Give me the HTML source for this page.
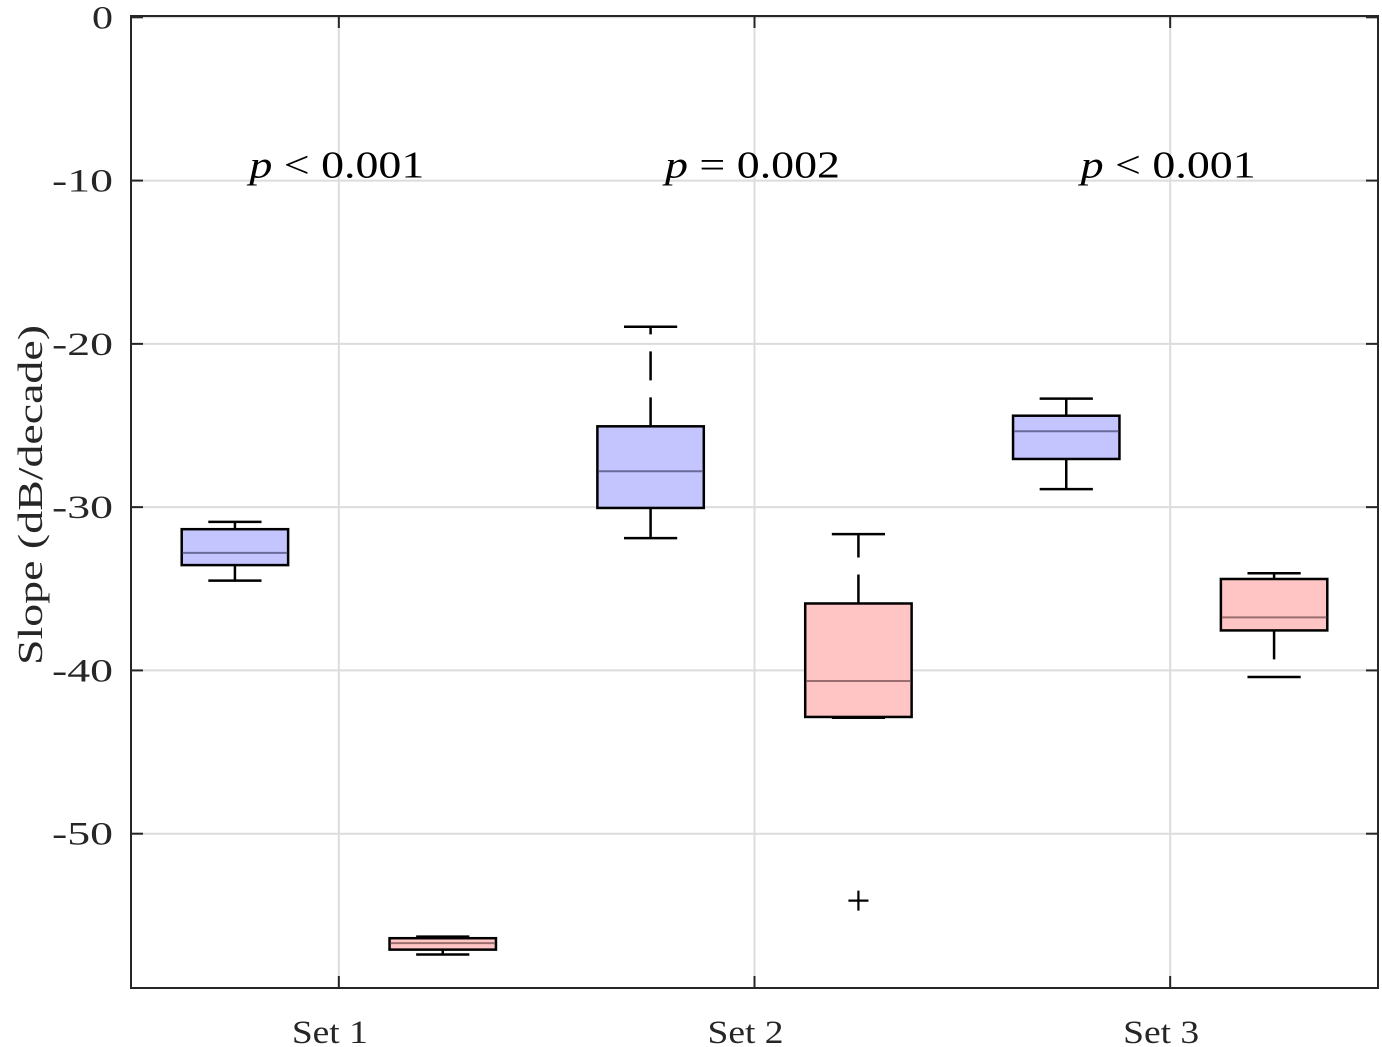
<!DOCTYPE html>
<html><head><meta charset="utf-8"><style>
html,body{margin:0;padding:0;background:#fff;}
svg{display:block;font-family:"Liberation Serif",serif;}
</style></head><body>
<svg id="chart" width="1382" height="1047" viewBox="0 0 1382 1047"></svg>
<script>
const categories = ["Set 1","Set 2","Set 3"];
// [whiskerLow, q1, median, q3, whiskerHigh]
const blueStats = [[-34.5,-33.55,-32.8,-31.35,-30.9],[-31.9,-30.05,-27.8,-25.05,-18.95],[-28.9,-27.05,-25.35,-24.4,-23.35]];
const redStats = [[-57.4,-57.1,-56.7,-56.4,-56.3],[-42.9,-42.85,-40.65,-35.9,-31.65],[-40.4,-37.55,-36.75,-34.4,-34.05]];
const redOutliers = [[],[-54.1],[]];
const pLabels = ["p < 0.001","p = 0.002","p < 0.001"];
const pLabelY = -9;
const yTicks = [0,-10,-20,-30,-40,-50];

const L=131,R=1378,T=16,B=988;
const xMin=0.5,xMax=3.5,yMin=-59.45,yMax=0.08;
const X=v=>L+(v-xMin)/(xMax-xMin)*(R-L);
const Y=v=>T+(yMax-v)/(yMax-yMin)*(B-T);
const svg=document.getElementById('chart');
const NS="http://www.w3.org/2000/svg";
function mk(tag,attrs,parent){const e=document.createElementNS(NS,tag);for(const k in attrs)e.setAttribute(k,attrs[k]);(parent||svg).appendChild(e);return e;}

yTicks.forEach(t=>{const g=mk('line',{x1:L,x2:R,y1:Y(t),y2:Y(t),stroke:'#dcdcdc','stroke-width':2});

});
categories.forEach((c,i)=>{const g=mk('line',{x1:X(i+1),x2:X(i+1),y1:T,y2:B,stroke:'#dcdcdc','stroke-width':2});

});

const fr=mk('rect',{x:L,y:T,width:R-L,height:B-T,fill:'none',stroke:'#262626','stroke-width':2});



yTicks.forEach(t=>{
 mk('line',{x1:L,x2:L+12,y1:Y(t),y2:Y(t),stroke:'#262626','stroke-width':2});
 mk('line',{x1:R-12,x2:R,y1:Y(t),y2:Y(t),stroke:'#262626','stroke-width':2});
 const s=String(t);
 const len=s.replace('-','').length*21+(t<0?19:0);
 const tx=mk('text',{x:L-18,y:Y(t)+11,'text-anchor':'end','font-size':33,fill:'#262626',textLength:len,lengthAdjust:'spacingAndGlyphs'});
 tx.textContent=s;
 
 
});
categories.forEach((c,i)=>{
 mk('line',{x1:X(i+1),x2:X(i+1),y1:B-12,y2:B,stroke:'#262626','stroke-width':2});
 mk('line',{x1:X(i+1),x2:X(i+1),y1:T,y2:T+12,stroke:'#262626','stroke-width':2});
 const tx=mk('text',{x:X(i+1)-9,y:1043,'text-anchor':'middle','font-size':33,fill:'#262626',textLength:76,lengthAdjust:'spacingAndGlyphs'});
 tx.textContent=c;
 
 
});
const yt=mk('text',{x:0,y:0,transform:`translate(42,495) rotate(-90)`,'text-anchor':'middle','font-size':35,fill:'#262626',textLength:340,lengthAdjust:'spacingAndGlyphs'});
yt.textContent='Slope (dB/decade)';



function box(st,cx,fill,med,name){
 const hw=0.128,cw=0.064;
 const g=mk('g',{});
 
 
 const dash={'stroke-dasharray':'29 17'};
 mk('line',Object.assign({x1:X(cx),x2:X(cx),y1:Y(st[3]),y2:Y(st[4]),stroke:'#000','stroke-width':2.5},dash),g);
 mk('line',Object.assign({x1:X(cx),x2:X(cx),y1:Y(st[1]),y2:Y(st[0]),stroke:'#000','stroke-width':2.5},dash),g);
 mk('line',{x1:X(cx-cw),x2:X(cx+cw),y1:Y(st[4]),y2:Y(st[4]),stroke:'#000','stroke-width':2.5},g);
 mk('line',{x1:X(cx-cw),x2:X(cx+cw),y1:Y(st[0]),y2:Y(st[0]),stroke:'#000','stroke-width':2.5},g);
 mk('rect',{x:X(cx-hw),y:Y(st[3]),width:X(cx+hw)-X(cx-hw),height:Y(st[1])-Y(st[3]),fill:fill,stroke:'#000','stroke-width':2.5},g);
 mk('line',{x1:X(cx-hw)+1,x2:X(cx+hw)-1,y1:Y(st[2]),y2:Y(st[2]),stroke:med,'stroke-width':2},g);
}
categories.forEach((c,i)=>{
 box(blueStats[i],i+1-0.25,'#c4c4ff','#6a6a9a','box-blue-'+(i+1));
 box(redStats[i],i+1+0.25,'#ffc4c4','#9a6e6e','box-red-'+(i+1));
 redOutliers[i].forEach(o=>{
  const p=mk('path',{d:`M${X(i+1.25)-10},${Y(o)}h20M${X(i+1.25)},${Y(o)-10}v20`,stroke:'#000','stroke-width':2.2});
  
  
 });
 const parts=pLabels[i].split(' ');
 const tx=mk('text',{x:X(i+1)-2,y:Y(pLabelY)+13,'text-anchor':'middle','font-size':38,fill:'#000',textLength:175,lengthAdjust:'spacingAndGlyphs'});
 const t1=mk('tspan',{'font-style':'italic'},tx);t1.textContent=parts[0];
 const t2=mk('tspan',{},tx);t2.textContent=' '+parts[1]+' '+parts[2];
 
 
});
</script>
</body></html>
